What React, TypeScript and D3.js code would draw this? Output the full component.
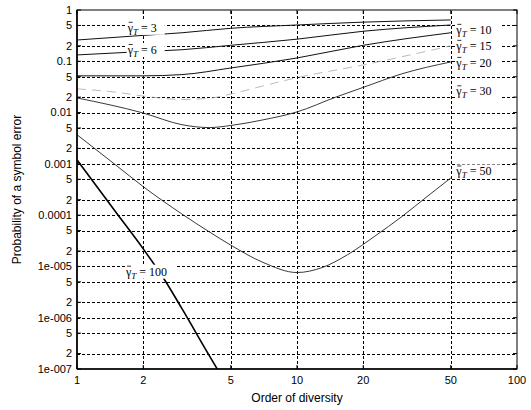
import React from "react";
import * as d3 from "d3";

// order of diversity (L) and symbol error probability for each total SNR
const gammaT = [3, 6, 10, 15, 20, 50, 100];

const L3 = [1, 2, 3, 5, 10, 20, 50];
const pe3 = [0.26, 0.32, 0.36, 0.44, 0.51, 0.58, 0.64];

const L6 = [1, 2, 3, 5, 10, 20, 50];
const pe6 = [0.133, 0.155, 0.168, 0.205, 0.27, 0.385, 0.51];

const L10 = [1, 2, 3, 5, 10, 20, 50];
const pe10 = [0.052, 0.052, 0.055, 0.074, 0.116, 0.205, 0.36];

const L15 = [1, 1.5, 2, 3, 4, 5, 7, 10, 20, 50];
const pe15 = [0.029, 0.025, 0.021, 0.018, 0.019, 0.023, 0.033, 0.048, 0.085, 0.2];

const L20 = [1, 2, 3, 4, 5, 7, 10, 15, 20, 30, 50];
const pe20 = [0.0193, 0.0098, 0.0058, 0.0051, 0.0056, 0.0072, 0.0103, 0.02, 0.031, 0.057, 0.097];

const L50 = [1, 1.5, 2, 3, 4, 5, 7, 10, 13, 17, 22.6, 30, 39, 50];
const pe50 = [3.7e-3, 9.5e-4, 3.6e-4, 1.05e-4, 4.7e-5, 2.6e-5, 1.2e-5, 7.6e-6, 9.5e-6, 1.7e-5, 3.9e-5, 9.4e-5, 2.3e-4, 5.3e-4];

const L100 = [1, 1.5, 2, 2.5, 3, 4, 4.5];
const pe100 = [1.2e-3, 1.15e-4, 2.2e-5, 5.5e-6, 1.5e-6, 1.8e-7, 7.7e-8];

const xTicks = [1, 2, 5, 10, 20, 50, 100];
const yTicks = [1e-7, 2e-7, 5e-7, 1e-6, 2e-6, 5e-6, 1e-5, 2e-5, 5e-5, 1e-4, 2e-4, 5e-4, 1e-3, 2e-3, 5e-3, 0.01, 0.02, 0.05, 0.1, 0.2, 0.5, 1];

// label anchors in data units [gamma, L, Pe]
const labelAnchors: [number, number, number][] = [
  [3, 1.7, 0.45],
  [6, 1.7, 0.166],
  [10, 53, 0.41],
  [15, 53, 0.2],
  [20, 53, 0.093],
  [30, 53, 0.026],
  [50, 53, 7.1e-4],
  [100, 1.67, 7.9e-6],
];

const W = 531;
const H = 410;
const m = { left: 77, right: 14, top: 10, bottom: 41 };

function yLabel(v: number) {
  const e = Math.floor(Math.log10(v) + 1e-9);
  const mant = Math.round(v / Math.pow(10, e));
  if (mant !== 1) return String(mant);
  if (e >= -4) return String(+v.toFixed(-e));
  return "1e-" + String(-e).padStart(3, "0");
}

export default function App() {
  const x = d3.scaleLog().domain([1, 100]).range([m.left, W - m.right]);
  const y = d3.scaleLog().domain([1e-7, 1]).range([H - m.bottom, m.top]);

  const line = d3
    .line<[number, number]>()
    .x((d) => x(d[0]))
    .y((d) => y(d[1]))
    .curve(d3.curveMonotoneX);

  const series = [
    { g: 3, L: L3, p: pe3, w: 1, c: "#111", dash: "" },
    { g: 6, L: L6, p: pe6, w: 1, c: "#111", dash: "" },
    { g: 10, L: L10, p: pe10, w: 1, c: "#111", dash: "" },
    { g: 15, L: L15, p: pe15, w: 0.8, c: "#aaa", dash: "9,6" },
    { g: 20, L: L20, p: pe20, w: 0.9, c: "#222", dash: "" },
    { g: 50, L: L50, p: pe50, w: 0.9, c: "#222", dash: "" },
    { g: 100, L: L100, p: pe100, w: 1.6, c: "#000", dash: "" },
  ];

  const x0 = m.left;
  const x1 = W - m.right;
  const y0 = H - m.bottom;
  const y1 = m.top;

  return (
    <svg width={W} height={H} style={{ position: "absolute", left: 0, top: 0, background: "#fff" }}>
      <defs>
        <clipPath id="plot">
          <rect x={x0} y={y1} width={x1 - x0} height={y0 - y1} />
        </clipPath>
      </defs>
      <rect width={W} height={H} fill="#fff" />

      {/* grid */}
      <g stroke="#000" strokeWidth={1} strokeDasharray="3,2" fill="none">
        {yTicks.slice(1, -1).map((t) => (
          <line key={"gy" + t} x1={x0} x2={x1} y1={Math.round(y(t)) + 0.5} y2={Math.round(y(t)) + 0.5} />
        ))}
        {xTicks.slice(1, -1).map((t) => (
          <line key={"gx" + t} x1={Math.round(x(t)) + 0.5} x2={Math.round(x(t)) + 0.5} y1={y0} y2={y1} />
        ))}
      </g>

      {/* curves */}
      <g clipPath="url(#plot)" fill="none">
        {series.map((s) => (
          <path
            key={s.g}
            d={line(s.L.map((l, i) => [l, s.p[i]] as [number, number])) || ""}
            stroke={s.c}
            strokeWidth={s.w}
            strokeDasharray={s.dash || undefined}
          />
        ))}
      </g>

      {/* labels */}
      <g fontFamily="Liberation Serif, serif" fontSize={12} fill="#000">
        {labelAnchors.map(([g, l, p]) => {
          const lx = x(l);
          const ly = y(p);
          const wdt = g >= 100 ? 52 : g >= 10 ? 46 : 38;
          return (
            <g key={"lab" + g} transform={`translate(${lx},${ly})`}>
              <rect x={-1} y={-7} width={wdt} height={14} fill="#fff" />
              <text x={0} y={4}>
                γ
                <tspan fontSize={9} fontStyle="italic" dy={3}>T</tspan>
                <tspan dy={-3} dx={3}>= {g}</tspan>
              </text>
              <line x1={1} x2={5} y1={-5.5} y2={-5.5} stroke="#000" strokeWidth={0.8} />
            </g>
          );
        })}
      </g>

      {/* frame */}
      <rect x={x0} y={y1} width={x1 - x0} height={y0 - y1} fill="none" stroke="#000" strokeWidth={1} />
      <line x1={x0} x2={x0} y1={y1} y2={y0} stroke="#000" strokeWidth={1.6} />
      <line x1={x0} x2={x1} y1={y0} y2={y0} stroke="#000" strokeWidth={1.6} />
      <g stroke="#000" strokeWidth={1}>
        {yTicks.map((t) => (
          <g key={"ty" + t}>
            <line x1={x0} x2={x0 + 4} y1={y(t)} y2={y(t)} />
            <line x1={x1} x2={x1 - 4} y1={y(t)} y2={y(t)} />
          </g>
        ))}
        {xTicks.map((t) => (
          <g key={"tx" + t}>
            <line x1={x(t)} x2={x(t)} y1={y0} y2={y0 - 4} />
            <line x1={x(t)} x2={x(t)} y1={y1} y2={y1 + 4} />
          </g>
        ))}
      </g>

      {/* tick labels */}
      <g fontFamily="Liberation Sans, Arial, sans-serif" fontSize={11} fill="#000">
        {yTicks.map((t) => (
          <text key={"ly" + t} x={x0 - 5} y={y(t)} dy="0.35em" textAnchor="end">
            {yLabel(t)}
          </text>
        ))}
        {xTicks.map((t) => (
          <text key={"lx" + t} x={x(t)} y={y0 + 15} textAnchor="middle">
            {t}
          </text>
        ))}
        <text x={(x0 + x1) / 2} y={H - 8} textAnchor="middle" fontSize={12}>
          Order of diversity
        </text>
        <text
          transform={`translate(21,${(y0 + y1) / 2}) rotate(-90)`}
          textAnchor="middle"
          fontSize={12}
        >
          Probability of a symbol error
        </text>
      </g>
    </svg>
  );
}
